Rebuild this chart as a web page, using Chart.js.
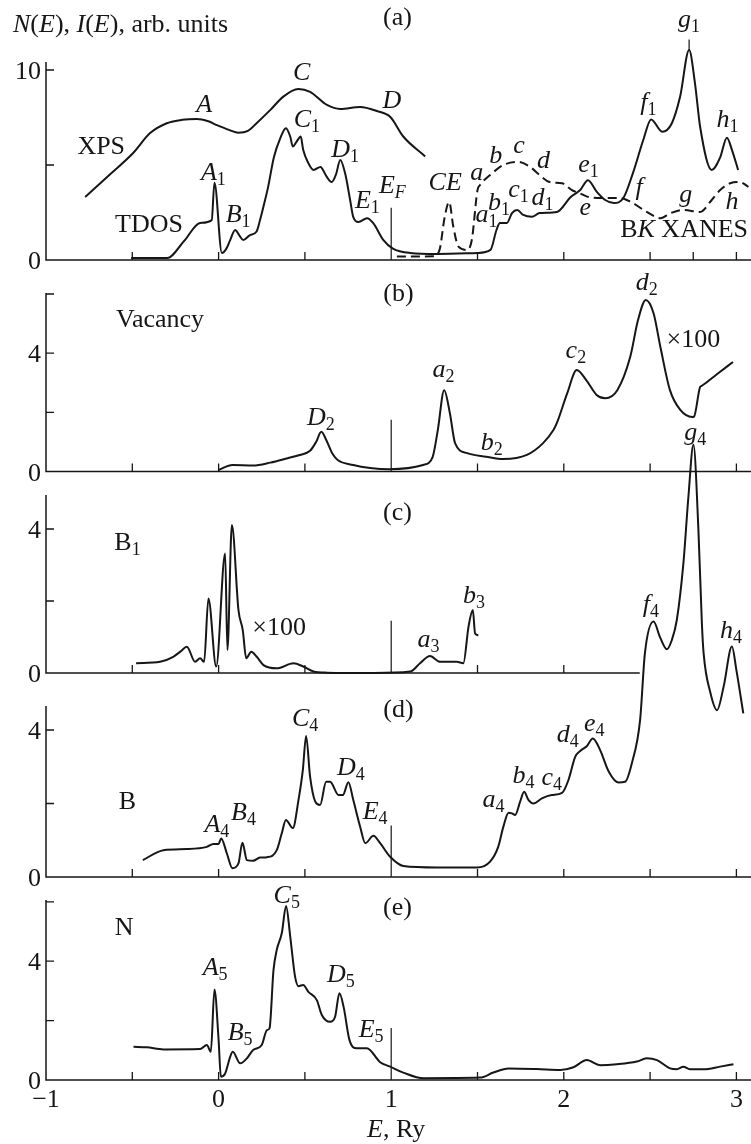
<!DOCTYPE html>
<html><head><meta charset="utf-8">
<script src="https://cdn.jsdelivr.net/npm/chart.js@4.4.1/dist/chart.umd.min.js"></script>
<style>
html,body{margin:0;padding:0;background:#fff;}
#wrap{position:relative;width:751px;height:1144px;overflow:hidden;background:#fff;}
canvas{position:absolute;left:0;top:0;}
</style></head>
<body><div id="wrap"></div>
<script>
// ---------- data ----------
// (a) XPS
const xpsE = [-0.773,-0.63,-0.495,-0.397,-0.30,-0.21,-0.126,-0.06,-0.01,0.06,0.115,0.17,0.22,0.30,0.375,0.462,0.53,0.628,0.705,0.82,0.917,0.995,1.07,1.197];
const xpsI = [3.32,4.5,5.63,6.68,7.2,7.38,7.42,7.3,7.1,6.85,6.7,6.8,7.2,7.9,8.6,9.0,8.85,8.16,7.95,8.05,7.84,7.53,6.5,5.45];
// (a) TDOS
const tdosE = [-0.507,-0.298,-0.2,-0.107,-0.04,-0.024,0.019,0.045,0.067,0.096,0.12,0.143,0.18,0.22,0.24,0.265,0.287,0.32,0.357,0.39,0.415,0.43,0.45,0.476,0.49,0.52,0.55,0.59,0.625,0.655,0.68,0.705,0.733,0.762,0.78,0.81,0.86,0.895,0.955,1.01,1.11,1.265,1.5,1.575,1.61,1.63,1.67,1.70,1.73,1.765,1.815,1.86,1.96,2.04,2.095,2.14,2.19,2.24,2.29,2.345,2.40,2.46,2.506,2.57,2.626,2.674,2.726,2.76,2.79,2.857,2.906,2.945,2.974,3.01];
const tdosN = [0.1,0.1,1.0,1.95,2.1,4.07,0.37,0.6,1.05,1.58,1.3,1.05,1.3,1.5,2.1,3.0,3.85,5.4,6.4,6.94,6.5,5.97,6.2,6.5,5.8,5.1,4.74,4.9,4.4,4.1,4.5,5.26,4.56,3.16,2.27,2.0,2.2,1.95,1.05,0.6,0.37,0.32,0.37,0.53,1.58,1.95,1.95,2.47,2.63,2.37,2.27,2.47,2.53,3.32,3.68,4.2,3.6,3.16,3.0,3.26,4.56,6.3,7.4,6.75,7.2,8.6,11.05,9.3,7.0,4.74,5.4,6.44,5.8,4.74];
// (a) B K XANES (dashed)
const xanE = [1.033,1.245,1.28,1.31,1.336,1.36,1.39,1.44,1.467,1.50,1.515,1.573,1.65,1.735,1.805,1.86,1.92,1.99,2.047,2.095,2.15,2.23,2.325,2.39,2.48,2.56,2.62,2.69,2.79,2.857,2.906,2.964,3.02,3.07];
const xanI = [0.18,0.2,0.53,2.27,3.05,1.74,0.7,0.53,1.05,3.68,3.95,4.47,5.0,5.16,4.9,4.47,4.1,4.04,3.68,3.5,3.3,3.26,3.26,3.05,2.53,2.2,2.47,2.63,2.53,3.16,3.68,4.04,4.1,3.85];
// (b) Vacancy
const vacE = [0.0,0.08,0.2,0.3,0.4,0.47,0.53,0.565,0.595,0.625,0.66,0.69,0.78,0.878,0.99,1.185,1.24,1.27,1.307,1.34,1.37,1.44,1.55,1.65,1.786,1.88,1.94,1.96,2.02,2.075,2.13,2.19,2.24,2.31,2.385,2.43,2.475,2.52,2.56,2.615,2.675,2.745,2.755,2.79,2.797,2.885,2.98];
const vacN = [0.05,0.22,0.2,0.3,0.45,0.56,0.7,1.0,1.34,1.05,0.6,0.39,0.22,0.12,0.08,0.22,0.49,1.4,2.75,1.97,0.96,0.62,0.5,0.42,0.56,0.96,1.4,1.64,2.65,3.43,3.09,2.59,2.48,2.75,3.88,5.12,5.8,5.35,4.2,2.75,2.08,1.84,1.86,2.86,2.89,3.28,3.7];
// (c) B1
const b1E = [-0.478,-0.339,-0.263,-0.22,-0.184,-0.136,-0.107,-0.084,-0.059,-0.014,0.038,0.051,0.077,0.115,0.14,0.16,0.189,0.221,0.26,0.337,0.434,0.49,0.55,0.627,0.9,1.11,1.167,1.225,1.283,1.38,1.418,1.448,1.473,1.486,1.505];
const b1N = [0.27,0.31,0.45,0.6,0.73,0.31,0.41,0.31,2.07,0.18,3.32,0.64,4.11,1.75,1.19,0.41,0.59,0.45,0.22,0.13,0.27,0.18,0.04,0.01,0.0,0.04,0.27,0.47,0.31,0.31,0.27,1.29,1.75,1.1,1.05];
// (d) B
const bE = [-0.439,-0.32,-0.184,-0.068,-0.03,0.0,0.015,0.048,0.08,0.115,0.138,0.164,0.20,0.24,0.28,0.337,0.366,0.39,0.43,0.463,0.488,0.507,0.53,0.56,0.588,0.623,0.646,0.695,0.72,0.752,0.78,0.82,0.85,0.897,0.936,0.994,1.07,1.265,1.496,1.573,1.62,1.65,1.68,1.70,1.718,1.747,1.77,1.795,1.824,1.873,1.93,1.99,2.027,2.066,2.095,2.133,2.168,2.21,2.26,2.317,2.355,2.394,2.442,2.47,2.52,2.558,2.597,2.626,2.655,2.693,2.722,2.751,2.78,2.80,2.81,2.85,2.888,2.926,2.974,3.0,3.04];
const bN = [0.46,0.73,0.76,0.82,0.9,0.9,1.05,0.64,0.24,0.37,0.93,0.46,0.44,0.53,0.54,0.73,1.19,1.55,1.33,2.1,2.91,3.84,2.73,2.05,1.96,2.59,2.59,2.23,2.23,2.58,2.1,1.37,0.92,1.12,0.92,0.55,0.3,0.26,0.26,0.42,0.82,1.37,1.75,1.73,1.69,2.05,2.32,2.1,2.0,2.14,2.23,2.29,2.64,3.27,3.43,3.56,3.77,3.46,2.87,2.57,2.59,3.09,4.27,6.09,6.95,6.52,6.2,6.45,7.0,8.54,10.35,11.76,9.44,6.9,6.09,5.0,4.54,5.18,6.27,5.63,4.45];
// (e) N
const nE = [-0.493,-0.416,-0.32,-0.107,-0.068,-0.045,-0.024,0.0,0.013,0.038,0.067,0.082,0.125,0.164,0.2,0.25,0.28,0.295,0.318,0.337,0.366,0.391,0.415,0.443,0.463,0.49,0.52,0.569,0.598,0.646,0.675,0.70,0.724,0.758,0.80,0.859,0.936,0.994,1.07,1.187,1.515,1.592,1.68,1.844,1.98,2.056,2.133,2.21,2.307,2.423,2.48,2.54,2.616,2.655,2.693,2.73,2.81,2.906,2.983];
const nN = [1.12,1.1,1.03,1.04,1.18,0.95,3.05,1.35,0.11,0.22,0.78,0.95,0.56,0.73,1.01,1.18,1.68,1.74,3.7,4.38,4.94,5.86,4.83,3.48,3.16,3.2,2.97,2.69,2.19,1.96,2.13,2.92,2.47,1.35,1.07,1.07,0.6,0.45,0.25,0.06,0.08,0.25,0.39,0.37,0.34,0.43,0.67,0.5,0.53,0.62,0.73,0.67,0.39,0.36,0.45,0.36,0.36,0.45,0.53];
// Fermi-level marker heights per panel (a..e)
const efTop = [2.75, 1.75, 1.45, 1.4, 1.75];
// g1 peak marker
const g1Mark = [11.05, 11.6];
// tick values
const xTicksA = [-0.5,0,0.5,1.5,2,2.5,2.75,3];
const xTicksFull = [-0.5,0,0.5,1.5,2,2.5,3];
const xTicksC = [-0.5,0,0.5,1.5,2];
const xTickLabels = [-1,0,1,2,3];
const yTicksA = [0,5,10], yLabelsA = [0,10];
const yTicksB = [0,2,4,6], yLabelsB = [0,4];
const yTicksC = [0,2,4], yLabelsC = [0,4];
const yTicksD = [0,2,4], yLabelsD = [0,4];
const yTicksE = [0,2,4,6], yLabelsE = [0,4];

// ---------- labels (text, data coordinates) ----------
const S = (m, s, st) => [[m, st || 'i'], [s, 's']];
const labelsA = [
  [-0.68,5.56,[['XPS','r']]],[-0.403,1.49,[['TDOS','r']]],
  [-0.084,7.8,[['A','i']]],[0.482,9.47,[['C','i']]],[1.004,7.98,[['D','i']]],
  [-0.03,4.21,S('A','1')],[0.113,2.02,S('B','1')],[0.511,7.02,S('C','1')],[0.733,5.44,S('D','1')],[0.862,2.72,S('E','1')],
  [1.007,3.54,[['E','i'],['F','si']]],[1.313,3.68,[['CE','i']]],
  [1.496,4.21,[['a','i']]],[1.606,5.09,[['b','i']]],[1.741,5.61,[['c','i']]],[1.882,4.83,[['d','i']]],
  [2.124,2.37,[['e','i']]],[2.437,3.42,[['f','i']]],[2.707,3.07,[['g','i']]],[2.974,2.67,[['h','i']]],
  [1.552,2.02,S('a','1')],[1.625,2.63,S('b','1')],[1.737,3.33,S('c','1')],[1.876,2.89,S('d','1')],
  [2.143,4.65,S('e','1')],[2.49,7.89,S('f','1')],[2.726,12.28,S('g','1')],[2.948,7.02,S('h','1')],
  [2.697,1.23,[['B','r'],['K','i'],[' XANES','r']]],[1.036,12.37,[['(a)','r']]]
];
const labelsB = [
  [1.042,5.77,[['(b)','r']]],[-0.339,4.9,[['Vacancy','r']]],[0.592,1.57,S('D','2')],
  [1.303,3.2,S('a','2')],[1.583,0.73,S('b','2')],[2.07,3.83,S('c','2')],[2.48,6.14,S('d','2')],
  [2.751,4.22,[['\u00d7100','r']]]
];
const labelsC = [
  [1.036,4.25,[['(c)','r']]],[-0.528,3.42,S('B','1','r')],[0.351,1.06,[['\u00d7100','r']]],
  [1.216,0.73,S('a','3')],[1.48,1.94,S('b','3')]
];
const labelsD = [
  [1.042,4.36,[['(d)','r']]],[-0.528,1.84,[['B','r']]],[-0.01,1.23,S('A','4')],[0.144,1.55,S('B','4')],
  [0.501,4.11,S('C','4')],[0.766,2.78,S('D','4')],[0.907,1.57,S('E','4')],
  [1.592,1.91,S('a','4')],[1.766,2.55,S('b','4')],[1.93,2.5,S('c','4')],[2.023,3.68,S('d','4')],
  [2.176,3.97,S('e','4')],[2.504,7.22,S('f','4')],[2.761,11.89,S('g','4')],[2.968,6.5,S('h','4')]
];
const labelsE = [
  [1.036,5.56,[['(e)','r']]],[-0.547,4.88,[['N','r']]],[-0.02,3.54,S('A','5')],[0.125,1.35,S('B','5')],
  [0.395,5.95,S('C','5')],[0.708,3.31,S('D','5')],[0.884,1.46,S('E','5')]
];

// ---------- style / layout ----------
const W = 751, H = 1144, LEFT = 46, PPX = 172.6;
const X_MIN = -1, X_MAX = X_MIN + (W - LEFT) / PPX;
const INK = '#161616';
const FONT = '"Liberation Serif", "Times New Roman", serif';
const MAIN = 26, SUB = 18, SUBDROP = 5, TICKFONT = 26, TICKLEN = 8;

const pts = (xs, ys) => xs.map((x, i) => ({x, y: ys[i]}));
const line = (xs, ys, extra) => Object.assign({data: pts(xs, ys), borderColor: INK, borderWidth: 2, pointRadius: 0,
  cubicInterpolationMode: 'monotone', clip: false, fill: false}, extra || {});
const efLine = i => ({data: [{x:1,y:0},{x:1,y:efTop[i]}], borderColor: INK, borderWidth: 1.2, pointRadius: 0, clip: false, tension: 0});

const PANELS = [
  {zero:260, top:62, ppu:19, xTicks:xTicksA, yTicks:yTicksA, yLabels:yLabelsA, labels:labelsA,
   datasets:[line(xpsE,xpsI), line(tdosE,tdosN), line(xanE,xanI,{borderDash:[9,5]}), efLine(0),
     {data:[{x:2.726,y:g1Mark[0]},{x:2.726,y:g1Mark[1]}], borderColor:INK, borderWidth:1.2, pointRadius:0, clip:false}]},
  {zero:471.5, top:293, ppu:29.58, xTicks:xTicksFull, yTicks:yTicksB, yLabels:yLabelsB, labels:labelsB,
   datasets:[line(vacE,vacN), efLine(1)]},
  {zero:673, top:495, ppu:36, xTicks:xTicksC, yTicks:yTicksC, yLabels:yLabelsC, labels:labelsC, xEnd:2.44,
   datasets:[line(b1E,b1N), efLine(2)]},
  {zero:877, top:706, ppu:36.75, xTicks:xTicksFull, yTicks:yTicksD, yLabels:yLabelsD, labels:labelsD,
   datasets:[line(bE,bN), efLine(3)]},
  {zero:1080, top:900, ppu:29.7, xTicks:xTicksFull, yTicks:yTicksE, yLabels:yLabelsE, labels:labelsE, xLabels:true,
   datasets:[line(nE,nN), efLine(4)]}
];

function drawRich(ctx, parts, x, y, align) {
  const items = parts.map(([t, s]) => {
    const sub = s === 's' || s === 'si';
    const it = s === 'i' || s === 'si';
    const font = (it ? 'italic ' : '') + (sub ? SUB : MAIN) + 'px ' + FONT;
    ctx.font = font;
    return {t, font, w: ctx.measureText(t).width, dy: sub ? SUBDROP : 0};
  });
  const total = items.reduce((a, b) => a + b.w, 0);
  let cx = align === 'left' ? x : x - total / 2;
  ctx.textAlign = 'left'; ctx.textBaseline = 'alphabetic';
  for (const it of items) { ctx.font = it.font; ctx.fillText(it.t, cx, y + it.dy); cx += it.w; }
}

const framePlugin = {
  id: 'panelFrame',
  afterDatasetsDraw(chart, args, opts) {
    const p = PANELS[opts.index];
    const ctx = chart.ctx, xs = chart.scales.x, ys = chart.scales.y;
    const px = v => xs.getPixelForValue(v), py = v => ys.getPixelForValue(v);
    ctx.save();
    ctx.strokeStyle = INK; ctx.fillStyle = INK; ctx.lineWidth = 1.5;
    const x0 = px(X_MIN), y0 = py(0);
    ctx.beginPath();
    ctx.moveTo(x0, py(ys.max)); ctx.lineTo(x0, y0);
    ctx.lineTo(px(p.xEnd !== undefined ? p.xEnd : xs.max), y0);
    ctx.stroke();
    ctx.lineWidth = 1.3;
    ctx.beginPath();
    p.xTicks.forEach(v => { ctx.moveTo(px(v), y0); ctx.lineTo(px(v), y0 - TICKLEN); });
    p.yTicks.forEach(v => { if (v === 0) return; ctx.moveTo(x0, py(v)); ctx.lineTo(x0 + TICKLEN, py(v)); });
    ctx.stroke();
    ctx.font = TICKFONT + 'px ' + FONT; ctx.textAlign = 'right'; ctx.textBaseline = 'alphabetic';
    p.yLabels.forEach(v => ctx.fillText(String(v), x0 - 5, py(v) + 9));
    if (p.xLabels) {
      ctx.textAlign = 'center';
      xTickLabels.forEach(v => ctx.fillText(v < 0 ? '\u2212' + Math.abs(v) : String(v), px(v), y0 + 27));
      drawRich(ctx, [['E','i'],[', Ry','r']], px(1.029), y0 + 56.7);
    }
    p.labels.forEach(([lx, ly, parts]) => drawRich(ctx, parts, px(lx), py(ly)));
    if (opts.index === 0) {
      drawRich(ctx, [['N','i'],['(','r'],['E','i'],['), ','r'],['I','i'],['(','r'],['E','i'],['), arb. units','r']], 13, 31.7, 'left');
    }
    ctx.restore();
  }
};

const wrap = document.getElementById('wrap');
PANELS.forEach((p, i) => {
  const c = document.createElement('canvas');
  c.width = W; c.height = H; c.style.width = W + 'px'; c.style.height = H + 'px';
  wrap.appendChild(c);
  new Chart(c.getContext('2d'), {
    type: 'line',
    data: {datasets: p.datasets},
    options: {
      responsive: false, animation: false, events: [], devicePixelRatio: 1,
      layout: {padding: {left: LEFT, right: 0, top: p.top, bottom: H - p.zero}},
      scales: {
        x: {type: 'linear', min: X_MIN, max: X_MAX, display: false},
        y: {type: 'linear', min: 0, max: (p.zero - p.top) / p.ppu, display: false}
      },
      plugins: {legend: {display: false}, tooltip: {enabled: false}, panelFrame: {index: i}}
    },
    plugins: [framePlugin]
  });
});
</script>
</body></html>
